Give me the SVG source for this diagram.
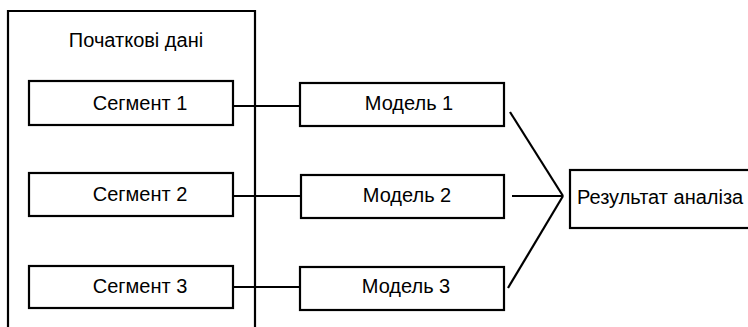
<svg xmlns="http://www.w3.org/2000/svg" width="748" height="327" viewBox="0 0 748 327">
<style>
.box{fill:#fff;stroke:#000;stroke-width:2.2}
.ln{stroke:#000;stroke-width:2.2;fill:none}
text{font-family:"Liberation Sans",Arial,sans-serif;font-size:20px;fill:#000}
.m{text-anchor:middle}
</style>
<rect width="748" height="327" fill="#fff"/>
<g id="source">
<path class="box" d="M8,330 V11 H255 V330"/>
<text class="m" x="136" y="47">Початкові дані</text>
</g>
<g id="connectors">
<line class="ln" x1="233" y1="106" x2="301" y2="106"/>
<line class="ln" x1="232" y1="196" x2="303" y2="196"/>
<line class="ln" x1="233" y1="287" x2="301" y2="287"/>
<line class="ln" x1="510" y1="112" x2="563" y2="196"/>
<line class="ln" x1="512" y1="196" x2="563" y2="196"/>
<line class="ln" x1="508" y1="288" x2="563" y2="196"/>
</g>
<g id="seg1"><rect class="box" x="29" y="81" width="204" height="44"/><text class="m" x="140" y="110">Сегмент 1</text></g>
<g id="seg2"><rect class="box" x="29" y="173" width="204" height="43"/><text class="m" x="140" y="201">Сегмент 2</text></g>
<g id="seg3"><rect class="box" x="29" y="266" width="204" height="42"/><text class="m" x="140" y="293">Сегмент 3</text></g>
<g id="model1"><rect class="box" x="300" y="83" width="204" height="43"/><text class="m" x="409" y="110">Модель 1</text></g>
<g id="model2"><rect class="box" x="301" y="175" width="203" height="43"/><text class="m" x="407" y="202">Модель 2</text></g>
<g id="model3"><rect class="box" x="300" y="267" width="204" height="43"/><text class="m" x="406" y="293">Модель 3</text></g>
<g id="result"><rect class="box" x="570" y="170" width="190" height="58"/><text x="577" y="204">Результат аналіза</text></g>
</svg>
